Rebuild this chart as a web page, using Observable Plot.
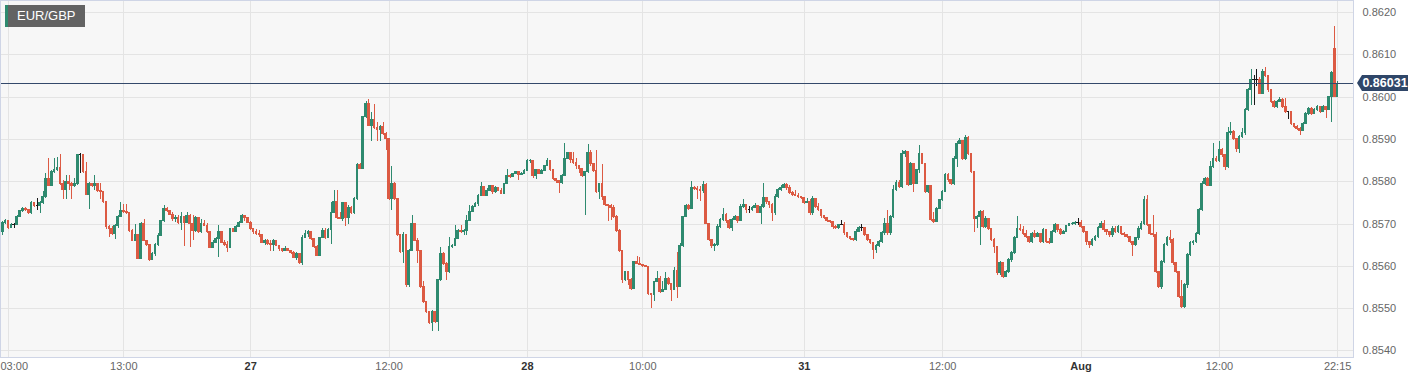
<!DOCTYPE html>
<html><head><meta charset="utf-8">
<script src="https://cdn.jsdelivr.net/npm/d3@7"></script>
<script src="https://cdn.jsdelivr.net/npm/@observablehq/plot@0.6"></script>
<style>
html,body{margin:0;padding:0;background:#fff;}
#wrap{position:relative;width:1424px;height:383px;font-family:"Liberation Sans",Arial,Helvetica,sans-serif;}
#legend{position:absolute;left:5px;top:5px;width:80px;height:22px;background:#636363;border-left:3px solid #2e8a6f;box-sizing:border-box;color:#fff;font-size:13px;line-height:22px;padding-left:9px;}
#price{position:absolute;left:1362px;width:46px;height:16px;background:#2f4668;color:#fff;font-weight:bold;font-size:12.5px;line-height:16px;text-align:center;}
#price:before{content:"";position:absolute;left:-5px;top:0;border-top:8px solid transparent;border-bottom:8px solid transparent;border-right:5px solid #2f4668;}
</style></head>
<body><div id="wrap"><div id="legend"></div><div id="price"></div></div>
<script>
const symbol = "EUR/GBP";
const lastPrice = 0.86031;
const yTicks = [0.8540,0.8550,0.8560,0.8570,0.8580,0.8590,0.8600,0.8610,0.8620];
const xTickIdx = [2,42,86,134,182,222,278,326,374,422,463];
const xTickLabels = ["03:00","13:00","27","12:00","28","10:00","31","12:00","Aug","12:00","22:15"];
const xTickBold = [false,false,true,false,true,false,true,false,true,false,false];

const open = [
0.85680,0.85703,0.85707,0.85690,0.85698,0.85698,0.85717,0.85730,0.85735,0.85733,
0.85725,0.85750,0.85743,0.85743,0.85749,0.85763,0.85807,0.85791,0.85823,0.85828,
0.85832,0.85795,0.85780,0.85799,0.85795,0.85791,0.85795,0.85862,0.85862,0.85823,
0.85769,0.85795,0.85791,0.85795,0.85779,0.85776,0.85751,0.85692,0.85688,0.85676,
0.85696,0.85717,0.85731,0.85728,0.85725,0.85684,0.85661,0.85674,0.85618,0.85701,
0.85660,0.85650,0.85615,0.85628,0.85650,0.85672,0.85706,0.85735,0.85730,0.85722,
0.85711,0.85715,0.85703,0.85717,0.85703,0.85719,0.85700,0.85684,0.85714,0.85680,
0.85701,0.85696,0.85680,0.85644,0.85656,0.85664,0.85680,0.85656,0.85650,0.85644,
0.85688,0.85682,0.85693,0.85703,0.85719,0.85715,0.85703,0.85688,0.85682,0.85677,
0.85674,0.85656,0.85660,0.85653,0.85651,0.85660,0.85648,0.85640,0.85636,0.85640,
0.85636,0.85632,0.85620,0.85628,0.85608,0.85668,0.85676,0.85680,0.85664,0.85646,
0.85624,0.85668,0.85684,0.85668,0.85685,0.85727,0.85751,0.85715,0.85712,0.85749,
0.85715,0.85739,0.85727,0.85759,0.85840,0.85830,0.85953,0.85983,0.85932,0.85947,
0.85928,0.85922,0.85930,0.85912,0.85900,0.85759,0.85794,0.85759,0.85673,0.85633,
0.85673,0.85555,0.85637,0.85700,0.85661,0.85637,0.85551,0.85516,0.85492,0.85465,
0.85492,0.85469,0.85567,0.85630,0.85606,0.85586,0.85645,0.85649,0.85665,0.85684,
0.85680,0.85684,0.85708,0.85728,0.85741,0.85747,0.85767,0.85788,0.85767,0.85779,
0.85790,0.85775,0.85786,0.85779,0.85771,0.85794,0.85814,0.85810,0.85818,0.85822,
0.85816,0.85819,0.85826,0.85848,0.85850,0.85814,0.85827,0.85818,0.85826,0.85837,
0.85848,0.85827,0.85806,0.85802,0.85798,0.85814,0.85854,0.85867,0.85851,0.85845,
0.85837,0.85830,0.85814,0.85822,0.85869,0.85841,0.85826,0.85775,0.85794,0.85763,
0.85745,0.85743,0.85739,0.85716,0.85684,0.85637,0.85567,0.85586,0.85567,0.85547,
0.85610,0.85606,0.85604,0.85600,0.85598,0.85535,0.85532,0.85563,0.85570,0.85539,
0.85543,0.85570,0.85559,0.85543,0.85590,0.85551,0.85649,0.85716,0.85743,0.85736,
0.85786,0.85783,0.85780,0.85777,0.85792,0.85700,0.85662,0.85647,0.85651,0.85694,
0.85710,0.85721,0.85706,0.85690,0.85710,0.85717,0.85706,0.85741,0.85745,0.85733,
0.85733,0.85737,0.85743,0.85727,0.85741,0.85761,0.85753,0.85745,0.85725,0.85765,
0.85780,0.85784,0.85792,0.85784,0.85773,0.85769,0.85767,0.85765,0.85761,0.85749,
0.85753,0.85725,0.85759,0.85741,0.85733,0.85719,0.85714,0.85708,0.85704,0.85692,
0.85690,0.85698,0.85698,0.85678,0.85670,0.85664,0.85662,0.85682,0.85690,0.85690,
0.85674,0.85662,0.85655,0.85639,0.85647,0.85658,0.85678,0.85700,0.85678,0.85717,
0.85780,0.85796,0.85788,0.85865,0.85870,0.85792,0.85843,0.85795,0.85827,0.85866,
0.85843,0.85776,0.85789,0.85710,0.85705,0.85736,0.85756,0.85776,0.85816,0.85803,
0.85795,0.85854,0.85890,0.85896,0.85854,0.85904,0.85866,0.85823,0.85713,0.85717,
0.85729,0.85693,0.85713,0.85689,0.85662,0.85646,0.85583,0.85607,0.85575,0.85587,
0.85614,0.85632,0.85666,0.85689,0.85685,0.85677,0.85670,0.85658,0.85677,0.85670,
0.85677,0.85658,0.85685,0.85658,0.85654,0.85681,0.85697,0.85685,0.85677,0.85681,
0.85695,0.85699,0.85701,0.85703,0.85703,0.85693,0.85681,0.85658,0.85650,0.85662,
0.85670,0.85690,0.85701,0.85685,0.85681,0.85673,0.85689,0.85681,0.85693,0.85677,
0.85673,0.85670,0.85658,0.85650,0.85666,0.85689,0.85701,0.85756,0.85697,0.85677,
0.85674,0.85587,0.85551,0.85610,0.85650,0.85666,0.85662,0.85607,0.85587,0.85528,
0.85504,0.85555,0.85626,0.85654,0.85658,0.85677,0.85733,0.85795,0.85807,0.85791,
0.85835,0.85854,0.85850,0.85874,0.85862,0.85835,0.85915,0.85918,0.85902,0.85878,
0.85906,0.85914,0.85969,0.86016,0.86040,0.86040,0.86040,0.86008,0.86059,0.86051,
0.86016,0.85988,0.85976,0.85988,0.85994,0.85976,0.85965,0.85965,0.85937,0.85929,
0.85925,0.85920,0.85937,0.85959,0.85972,0.85961,0.85969,0.85976,0.85965,0.85976,
0.85970,0.86000,0.86114,0.86000];

const high = [
0.85707,0.85710,0.85709,0.85701,0.85701,0.85719,0.85733,0.85739,0.85739,0.85735,
0.85753,0.85751,0.85761,0.85753,0.85777,0.85819,0.85854,0.85827,0.85854,0.85857,
0.85865,0.85804,0.85815,0.85815,0.85799,0.85807,0.85865,0.85866,0.85862,0.85846,
0.85799,0.85796,0.85815,0.85795,0.85796,0.85776,0.85751,0.85696,0.85693,0.85700,
0.85719,0.85751,0.85747,0.85745,0.85725,0.85688,0.85700,0.85676,0.85703,0.85711,
0.85661,0.85652,0.85632,0.85653,0.85677,0.85707,0.85743,0.85739,0.85733,0.85727,
0.85719,0.85719,0.85727,0.85717,0.85727,0.85722,0.85719,0.85717,0.85715,0.85711,
0.85709,0.85701,0.85682,0.85660,0.85668,0.85696,0.85680,0.85661,0.85658,0.85690,
0.85690,0.85696,0.85707,0.85723,0.85719,0.85715,0.85706,0.85690,0.85687,0.85684,
0.85676,0.85664,0.85663,0.85661,0.85664,0.85660,0.85650,0.85642,0.85646,0.85642,
0.85638,0.85634,0.85632,0.85630,0.85672,0.85685,0.85685,0.85680,0.85664,0.85650,
0.85669,0.85690,0.85690,0.85690,0.85751,0.85779,0.85779,0.85727,0.85751,0.85751,
0.85743,0.85741,0.85763,0.85842,0.85842,0.85955,0.85989,0.85994,0.85963,0.85983,
0.85940,0.85932,0.85940,0.85916,0.85900,0.85837,0.85798,0.85759,0.85673,0.85680,
0.85673,0.85639,0.85720,0.85700,0.85665,0.85637,0.85563,0.85516,0.85492,0.85495,
0.85492,0.85569,0.85645,0.85633,0.85610,0.85669,0.85651,0.85696,0.85686,0.85696,
0.85686,0.85720,0.85743,0.85744,0.85750,0.85769,0.85798,0.85788,0.85783,0.85792,
0.85790,0.85788,0.85786,0.85784,0.85796,0.85830,0.85818,0.85820,0.85824,0.85822,
0.85821,0.85828,0.85852,0.85852,0.85850,0.85829,0.85829,0.85828,0.85839,0.85855,
0.85849,0.85827,0.85806,0.85802,0.85816,0.85890,0.85870,0.85869,0.85869,0.85856,
0.85837,0.85830,0.85824,0.85889,0.85874,0.85841,0.85873,0.85796,0.85841,0.85765,
0.85747,0.85745,0.85743,0.85720,0.85688,0.85637,0.85588,0.85586,0.85570,0.85612,
0.85622,0.85620,0.85604,0.85602,0.85598,0.85535,0.85565,0.85588,0.85575,0.85565,
0.85586,0.85574,0.85559,0.85596,0.85633,0.85653,0.85718,0.85745,0.85747,0.85800,
0.85788,0.85788,0.85788,0.85800,0.85796,0.85700,0.85662,0.85655,0.85698,0.85714,
0.85737,0.85725,0.85710,0.85712,0.85721,0.85717,0.85745,0.85757,0.85745,0.85741,
0.85741,0.85749,0.85743,0.85745,0.85796,0.85761,0.85753,0.85749,0.85769,0.85784,
0.85792,0.85796,0.85796,0.85792,0.85777,0.85779,0.85771,0.85765,0.85761,0.85761,
0.85757,0.85765,0.85759,0.85749,0.85733,0.85721,0.85714,0.85708,0.85706,0.85696,
0.85700,0.85708,0.85704,0.85678,0.85670,0.85666,0.85686,0.85694,0.85698,0.85690,
0.85674,0.85662,0.85655,0.85651,0.85662,0.85682,0.85714,0.85733,0.85721,0.85792,
0.85804,0.85804,0.85874,0.85874,0.85870,0.85846,0.85843,0.85829,0.85886,0.85866,
0.85843,0.85792,0.85789,0.85727,0.85739,0.85759,0.85780,0.85819,0.85819,0.85803,
0.85860,0.85896,0.85903,0.85898,0.85910,0.85906,0.85866,0.85823,0.85721,0.85733,
0.85733,0.85717,0.85713,0.85689,0.85666,0.85646,0.85611,0.85607,0.85591,0.85618,
0.85636,0.85670,0.85717,0.85699,0.85693,0.85685,0.85670,0.85681,0.85685,0.85681,
0.85677,0.85689,0.85685,0.85666,0.85685,0.85701,0.85697,0.85689,0.85685,0.85697,
0.85701,0.85703,0.85705,0.85713,0.85709,0.85693,0.85681,0.85658,0.85666,0.85674,
0.85693,0.85705,0.85709,0.85685,0.85681,0.85693,0.85693,0.85697,0.85693,0.85681,
0.85674,0.85670,0.85658,0.85668,0.85693,0.85705,0.85766,0.85768,0.85697,0.85720,
0.85681,0.85587,0.85614,0.85654,0.85670,0.85685,0.85666,0.85607,0.85587,0.85567,
0.85559,0.85630,0.85658,0.85662,0.85681,0.85736,0.85800,0.85811,0.85809,0.85847,
0.85890,0.85860,0.85894,0.85878,0.85862,0.85929,0.85939,0.85921,0.85902,0.85910,
0.85925,0.85973,0.86020,0.86066,0.86050,0.86065,0.86047,0.86065,0.86069,0.86051,
0.86016,0.85992,0.85992,0.85998,0.85996,0.85996,0.85967,0.85961,0.85937,0.85933,
0.85927,0.85941,0.85963,0.85976,0.85976,0.85972,0.85980,0.85976,0.85980,0.85976,
0.86002,0.86060,0.86166,0.86036];

const low = [
0.85672,0.85698,0.85688,0.85690,0.85690,0.85696,0.85717,0.85727,0.85730,0.85722,
0.85723,0.85739,0.85731,0.85725,0.85746,0.85761,0.85788,0.85788,0.85820,0.85825,
0.85791,0.85759,0.85759,0.85779,0.85759,0.85787,0.85791,0.85819,0.85819,0.85767,
0.85735,0.85787,0.85779,0.85775,0.85759,0.85749,0.85688,0.85668,0.85672,0.85664,
0.85690,0.85715,0.85725,0.85722,0.85680,0.85660,0.85660,0.85616,0.85616,0.85658,
0.85646,0.85611,0.85614,0.85624,0.85648,0.85670,0.85703,0.85727,0.85720,0.85707,
0.85703,0.85700,0.85684,0.85648,0.85701,0.85644,0.85660,0.85680,0.85677,0.85677,
0.85693,0.85677,0.85642,0.85642,0.85653,0.85620,0.85653,0.85648,0.85632,0.85642,
0.85680,0.85682,0.85692,0.85701,0.85706,0.85701,0.85685,0.85676,0.85672,0.85668,
0.85653,0.85650,0.85650,0.85636,0.85636,0.85646,0.85636,0.85632,0.85634,0.85634,
0.85628,0.85618,0.85614,0.85604,0.85603,0.85666,0.85669,0.85661,0.85642,0.85622,
0.85622,0.85666,0.85664,0.85666,0.85652,0.85725,0.85711,0.85710,0.85707,0.85693,
0.85700,0.85723,0.85723,0.85755,0.85828,0.85828,0.85950,0.85930,0.85896,0.85924,
0.85896,0.85896,0.85910,0.85873,0.85755,0.85732,0.85755,0.85670,0.85630,0.85606,
0.85551,0.85551,0.85635,0.85658,0.85606,0.85547,0.85512,0.85488,0.85463,0.85447,
0.85465,0.85445,0.85565,0.85602,0.85567,0.85584,0.85643,0.85647,0.85663,0.85678,
0.85673,0.85673,0.85708,0.85728,0.85739,0.85741,0.85765,0.85765,0.85767,0.85779,
0.85769,0.85773,0.85777,0.85769,0.85771,0.85794,0.85808,0.85810,0.85818,0.85802,
0.85816,0.85818,0.85826,0.85842,0.85808,0.85805,0.85816,0.85818,0.85826,0.85837,
0.85825,0.85802,0.85796,0.85772,0.85794,0.85814,0.85852,0.85844,0.85840,0.85830,
0.85820,0.85810,0.85720,0.85820,0.85837,0.85822,0.85773,0.85759,0.85755,0.85741,
0.85707,0.85708,0.85712,0.85680,0.85633,0.85559,0.85565,0.85555,0.85543,0.85545,
0.85604,0.85602,0.85598,0.85596,0.85532,0.85500,0.85516,0.85563,0.85536,0.85540,
0.85543,0.85555,0.85516,0.85543,0.85525,0.85551,0.85645,0.85716,0.85732,0.85735,
0.85779,0.85757,0.85753,0.85773,0.85698,0.85658,0.85643,0.85635,0.85647,0.85690,
0.85706,0.85702,0.85686,0.85682,0.85710,0.85702,0.85706,0.85737,0.85725,0.85725,
0.85729,0.85737,0.85725,0.85700,0.85737,0.85745,0.85737,0.85706,0.85721,0.85761,
0.85777,0.85784,0.85780,0.85769,0.85765,0.85765,0.85761,0.85757,0.85745,0.85749,
0.85721,0.85721,0.85737,0.85729,0.85714,0.85710,0.85704,0.85702,0.85688,0.85686,
0.85686,0.85696,0.85674,0.85666,0.85660,0.85658,0.85658,0.85682,0.85682,0.85670,
0.85658,0.85651,0.85617,0.85631,0.85645,0.85655,0.85674,0.85674,0.85674,0.85714,
0.85777,0.85784,0.85784,0.85858,0.85788,0.85790,0.85775,0.85795,0.85819,0.85840,
0.85772,0.85772,0.85706,0.85701,0.85703,0.85734,0.85754,0.85774,0.85799,0.85790,
0.85790,0.85834,0.85890,0.85850,0.85850,0.85862,0.85819,0.85680,0.85690,0.85650,
0.85690,0.85690,0.85685,0.85658,0.85630,0.85579,0.85579,0.85571,0.85573,0.85583,
0.85610,0.85628,0.85666,0.85683,0.85673,0.85666,0.85654,0.85654,0.85666,0.85670,
0.85654,0.85654,0.85654,0.85651,0.85654,0.85677,0.85681,0.85674,0.85677,0.85681,
0.85695,0.85697,0.85697,0.85697,0.85690,0.85677,0.85650,0.85642,0.85646,0.85658,
0.85666,0.85689,0.85681,0.85673,0.85669,0.85669,0.85677,0.85677,0.85673,0.85669,
0.85666,0.85654,0.85622,0.85646,0.85662,0.85685,0.85697,0.85693,0.85673,0.85669,
0.85583,0.85548,0.85544,0.85607,0.85646,0.85654,0.85603,0.85583,0.85524,0.85500,
0.85500,0.85548,0.85622,0.85650,0.85654,0.85673,0.85730,0.85791,0.85788,0.85788,
0.85831,0.85846,0.85846,0.85858,0.85827,0.85831,0.85909,0.85898,0.85870,0.85866,
0.85902,0.85910,0.85965,0.85980,0.85980,0.86024,0.86005,0.86005,0.86047,0.86012,
0.85984,0.85972,0.85972,0.85988,0.85972,0.85961,0.85946,0.85933,0.85925,0.85921,
0.85910,0.85918,0.85935,0.85957,0.85957,0.85959,0.85967,0.85961,0.85963,0.85949,
0.85968,0.85940,0.85998,0.85999];

const close = [
0.85703,0.85707,0.85690,0.85698,0.85698,0.85717,0.85730,0.85735,0.85733,0.85725,
0.85750,0.85743,0.85743,0.85749,0.85763,0.85807,0.85791,0.85823,0.85828,0.85832,
0.85795,0.85780,0.85799,0.85795,0.85791,0.85795,0.85862,0.85862,0.85823,0.85769,
0.85795,0.85791,0.85795,0.85779,0.85776,0.85751,0.85692,0.85688,0.85676,0.85696,
0.85717,0.85731,0.85728,0.85725,0.85684,0.85661,0.85674,0.85618,0.85701,0.85660,
0.85650,0.85615,0.85628,0.85650,0.85672,0.85706,0.85735,0.85730,0.85722,0.85711,
0.85715,0.85703,0.85717,0.85703,0.85719,0.85700,0.85684,0.85714,0.85680,0.85701,
0.85696,0.85680,0.85644,0.85656,0.85664,0.85680,0.85656,0.85650,0.85644,0.85688,
0.85682,0.85693,0.85703,0.85719,0.85715,0.85703,0.85688,0.85682,0.85677,0.85674,
0.85656,0.85660,0.85653,0.85651,0.85660,0.85648,0.85640,0.85636,0.85640,0.85636,
0.85632,0.85620,0.85628,0.85608,0.85668,0.85676,0.85680,0.85664,0.85646,0.85624,
0.85668,0.85684,0.85668,0.85685,0.85727,0.85751,0.85715,0.85712,0.85749,0.85715,
0.85739,0.85727,0.85759,0.85840,0.85830,0.85953,0.85983,0.85932,0.85947,0.85928,
0.85922,0.85930,0.85912,0.85900,0.85759,0.85794,0.85759,0.85673,0.85633,0.85673,
0.85555,0.85637,0.85700,0.85661,0.85637,0.85551,0.85516,0.85492,0.85465,0.85492,
0.85469,0.85567,0.85630,0.85606,0.85586,0.85645,0.85649,0.85665,0.85684,0.85680,
0.85684,0.85708,0.85728,0.85741,0.85747,0.85767,0.85788,0.85767,0.85779,0.85790,
0.85775,0.85786,0.85779,0.85771,0.85794,0.85814,0.85810,0.85818,0.85822,0.85816,
0.85819,0.85826,0.85848,0.85850,0.85814,0.85827,0.85818,0.85826,0.85837,0.85848,
0.85827,0.85806,0.85802,0.85798,0.85814,0.85854,0.85867,0.85851,0.85845,0.85837,
0.85830,0.85814,0.85822,0.85869,0.85841,0.85826,0.85775,0.85794,0.85763,0.85745,
0.85743,0.85739,0.85716,0.85684,0.85637,0.85567,0.85586,0.85567,0.85547,0.85610,
0.85606,0.85604,0.85600,0.85598,0.85535,0.85532,0.85563,0.85570,0.85539,0.85543,
0.85570,0.85559,0.85543,0.85590,0.85551,0.85649,0.85716,0.85743,0.85736,0.85786,
0.85783,0.85780,0.85777,0.85792,0.85700,0.85662,0.85647,0.85651,0.85694,0.85710,
0.85721,0.85706,0.85690,0.85710,0.85717,0.85706,0.85741,0.85745,0.85733,0.85733,
0.85737,0.85743,0.85727,0.85741,0.85761,0.85753,0.85745,0.85725,0.85765,0.85780,
0.85784,0.85792,0.85784,0.85773,0.85769,0.85767,0.85765,0.85761,0.85749,0.85753,
0.85725,0.85759,0.85741,0.85733,0.85719,0.85714,0.85708,0.85704,0.85692,0.85690,
0.85698,0.85698,0.85678,0.85670,0.85664,0.85662,0.85682,0.85690,0.85690,0.85674,
0.85662,0.85655,0.85639,0.85647,0.85658,0.85678,0.85700,0.85678,0.85717,0.85780,
0.85796,0.85788,0.85865,0.85870,0.85792,0.85843,0.85795,0.85827,0.85866,0.85843,
0.85776,0.85789,0.85710,0.85705,0.85736,0.85756,0.85776,0.85816,0.85803,0.85795,
0.85854,0.85890,0.85896,0.85854,0.85904,0.85866,0.85823,0.85713,0.85717,0.85729,
0.85693,0.85713,0.85689,0.85662,0.85646,0.85583,0.85607,0.85575,0.85587,0.85614,
0.85632,0.85666,0.85689,0.85685,0.85677,0.85670,0.85658,0.85677,0.85670,0.85677,
0.85658,0.85685,0.85658,0.85654,0.85681,0.85697,0.85685,0.85677,0.85681,0.85695,
0.85699,0.85701,0.85703,0.85703,0.85693,0.85681,0.85658,0.85650,0.85662,0.85670,
0.85690,0.85701,0.85685,0.85681,0.85673,0.85689,0.85681,0.85693,0.85677,0.85673,
0.85670,0.85658,0.85650,0.85666,0.85689,0.85701,0.85756,0.85697,0.85677,0.85674,
0.85587,0.85551,0.85610,0.85650,0.85666,0.85662,0.85607,0.85587,0.85528,0.85504,
0.85555,0.85626,0.85654,0.85658,0.85677,0.85733,0.85795,0.85807,0.85791,0.85835,
0.85854,0.85850,0.85874,0.85862,0.85835,0.85915,0.85918,0.85902,0.85878,0.85906,
0.85914,0.85969,0.86016,0.86040,0.86040,0.86040,0.86008,0.86059,0.86051,0.86016,
0.85988,0.85976,0.85988,0.85994,0.85976,0.85965,0.85965,0.85937,0.85929,0.85925,
0.85920,0.85937,0.85959,0.85972,0.85961,0.85969,0.85976,0.85965,0.85976,0.85970,
0.86000,0.86056,0.86000,0.86031];

const GREEN = "#2e8a6f", RED = "#dc5a43", DOJI = "#1a1a1a";
const candles = close.map((c, i) => ({i, o: open[i], h: high[i], l: low[i], c}));
const colorOf = d => d.c > d.o ? GREEN : d.c < d.o ? RED : DOJI;
const xTicks = xTickIdx.map((i, k) => ({i, label: xTickLabels[k], bold: xTickBold[k], k}));

const chart = Plot.plot({
  width: 1424, height: 383,
  marginLeft: 0, marginRight: 71, marginTop: 0, marginBottom: 26,
  style: {background: "#fff", fontFamily: "'Liberation Sans', Arial, Helvetica, sans-serif", overflow: "visible"},
  x: {type: "linear", domain: [-0.775, 468.5], axis: null},
  y: {domain: [0.853844, 0.862284], axis: null},
  marks: [
    Plot.frame({fill: "#f7f7f7", stroke: null}),
    Plot.ruleY(yTicks, {stroke: "#e4e4e4", strokeWidth: 1, shapeRendering: "crispEdges"}),
    Plot.ruleX(xTickIdx, {stroke: "#e4e4e4", strokeWidth: 1, shapeRendering: "crispEdges"}),
    Plot.ruleX(candles, {x: "i", y1: "l", y2: "h", stroke: colorOf, strokeWidth: 1, shapeRendering: "crispEdges"}),
    Plot.rect(candles, {
      x1: d => d.i - 0.46, x2: d => d.i + 0.46,
      y1: d => Math.min(d.o, d.c), y2: d => Math.max(d.o, d.c),
      fill: colorOf, insetTop: -0.5, insetBottom: -0.5, shapeRendering: "crispEdges"
    }),
    Plot.ruleY([lastPrice], {stroke: "#34496b", strokeWidth: 1, shapeRendering: "crispEdges"}),
    Plot.frame({stroke: "#cfd5e6", fill: "none", shapeRendering: "crispEdges"}),
    Plot.axisY(yTicks, {anchor: "right", tickSize: 0, tickPadding: 9, tickFormat: d => d.toFixed(4), fill: "#666", fontSize: 11, label: null}),
    Plot.text(xTicks.filter(t => t.k > 0 && !t.bold), {x: "i", text: "label", frameAnchor: "bottom", dy: 12, fill: "#666", fontSize: 11}),
    Plot.text(xTicks.filter(t => t.bold), {x: "i", text: "label", frameAnchor: "bottom", dy: 12, fill: "#333", fontSize: 11, fontWeight: "bold"}),
    Plot.text(xTicks.filter(t => t.k === 0), {text: "label", frameAnchor: "bottom-left", textAnchor: "start", dy: 12, fill: "#666", fontSize: 11})
  ]
});
const wrap = document.getElementById("wrap");
wrap.insertBefore(chart, wrap.firstChild);
chart.style.position = "absolute"; chart.style.left = "0"; chart.style.top = "0";
document.getElementById("legend").textContent = symbol;
const py = chart.scale("y").apply(lastPrice);
const priceEl = document.getElementById("price");
priceEl.textContent = lastPrice.toFixed(5);
priceEl.style.top = (py - 8) + "px";
</script>
</body></html>
